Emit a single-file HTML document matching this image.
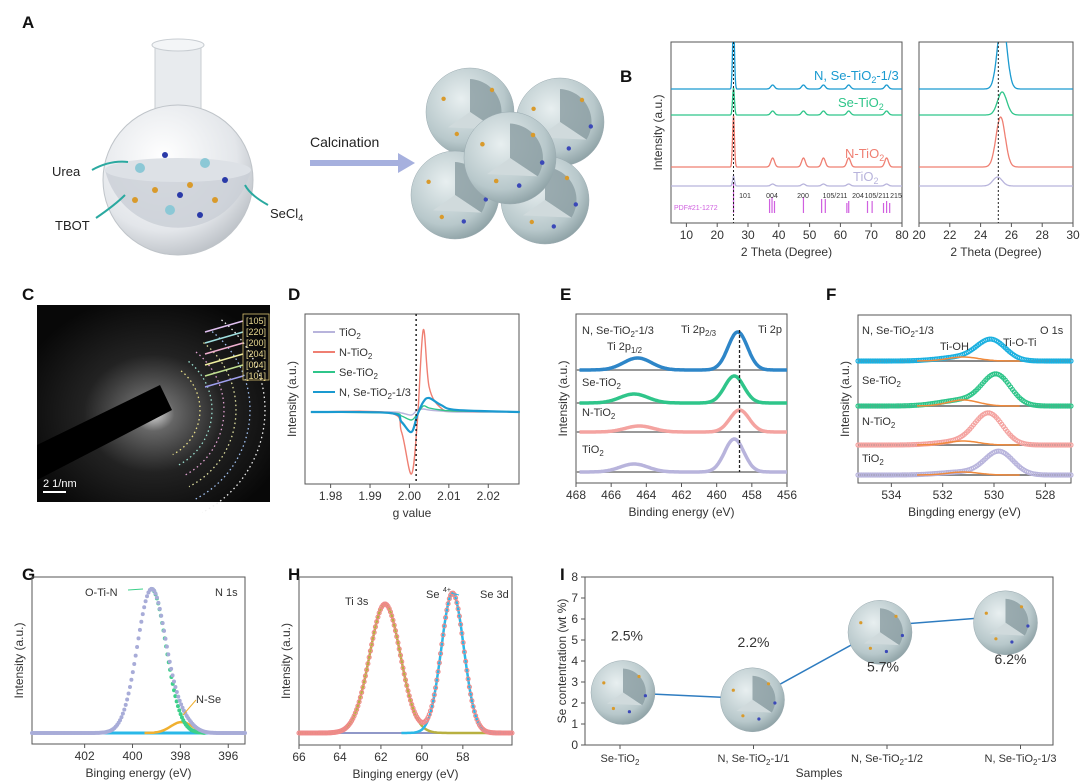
<!DOCTYPE html>
<html><head><meta charset="utf-8">
<style>
body{margin:0;background:#fff;}
svg{display:block;font-family:"Liberation Sans",sans-serif;}
.t{font-size:11px;fill:#333;}
.ax{font-size:12px;fill:#333;}
.lt{font-size:17px;font-weight:bold;fill:#111;}
</style></head>
<body>
<svg id="fig" width="1080" height="784" viewBox="0 0 1080 784">
<defs>
<radialGradient id="sph" cx="40%" cy="35%" r="70%">
<stop offset="0" stop-color="#e8eff0"/><stop offset="0.7" stop-color="#b8c8cb"/><stop offset="1" stop-color="#8a9ea2"/></radialGradient>
<radialGradient id="flask" cx="40%" cy="35%" r="70%">
<stop offset="0" stop-color="#ffffff"/><stop offset="0.7" stop-color="#e3e6ea"/><stop offset="1" stop-color="#b9bec4"/></radialGradient>
<radialGradient id="tem" cx="50%" cy="55%" r="60%">
<stop offset="0" stop-color="#ddd"/><stop offset="0.15" stop-color="#666"/><stop offset="0.5" stop-color="#222"/><stop offset="1" stop-color="#080808"/></radialGradient>
</defs>
<!-- letters -->
<text class="lt" x="22" y="28">A</text>
<text class="lt" x="620" y="82">B</text>
<text class="lt" x="22" y="300">C</text>
<text class="lt" x="288" y="300">D</text>
<text class="lt" x="560" y="300">E</text>
<text class="lt" x="826" y="300">F</text>
<text class="lt" x="22" y="580">G</text>
<text class="lt" x="288" y="580">H</text>
<text class="lt" x="560" y="580">I</text>

<!-- Panel A -->
<g>
<rect x="155" y="45" width="46" height="70" fill="#e8ebee" stroke="#c8cdd2"/>
<ellipse cx="178" cy="45" rx="26" ry="6" fill="#f3f5f7" stroke="#c8cdd2"/>
<circle cx="178" cy="180" r="75" fill="url(#flask)" stroke="#bfc4c9"/>
<path d="M105 170 Q178 185 251 170 A75 75 0 0 1 105 170Z" fill="#c9ced6" opacity="0.8"/>
<ellipse cx="178" cy="170" rx="73" ry="12" fill="#dde1e6"/>
<circle cx="140" cy="168" r="5" fill="#8cc8d6"/><circle cx="205" cy="163" r="5" fill="#8cc8d6"/><circle cx="170" cy="210" r="5" fill="#8cc8d6"/>
<circle cx="155" cy="190" r="3" fill="#d99a2b"/><circle cx="190" cy="185" r="3" fill="#d99a2b"/><circle cx="215" cy="200" r="3" fill="#d99a2b"/><circle cx="135" cy="200" r="3" fill="#d99a2b"/>
<circle cx="165" cy="155" r="3" fill="#2a3aa8"/><circle cx="200" cy="215" r="3" fill="#2a3aa8"/><circle cx="180" cy="195" r="3" fill="#2a3aa8"/><circle cx="225" cy="180" r="3" fill="#2a3aa8"/>
<path d="M92 170 Q110 160 128 162" fill="none" stroke="#2aa9a0" stroke-width="2"/>
<path d="M96 218 Q115 205 125 195" fill="none" stroke="#2aa9a0" stroke-width="2"/>
<path d="M268 205 Q250 195 245 185" fill="none" stroke="#2aa9a0" stroke-width="2"/>
</g>
<text x="52" y="176" font-size="13" fill="#222">Urea</text>
<text x="55" y="230" font-size="13" fill="#222">TBOT</text>
<text x="270" y="218" font-size="13" fill="#222">SeCl<tspan font-size="9" dy="3">4</tspan></text>
<text x="310" y="147" font-size="14" fill="#222">Calcination</text>
<path d="M310 163 L400 163" stroke="#a6b0de" stroke-width="6"/>
<path d="M398 153 L415 163 L398 173Z" fill="#a6b0de"/>
<g id="cluster"></g>

<!-- Panel C -->
<g>
<rect x="37" y="305" width="233" height="197" fill="url(#tem)"/>
<g id="rings" fill="none" stroke-dasharray="1.5 3" stroke-width="1.3"></g>
<path d="M37 445 L160 385 L172 410 L37 480Z" fill="#000"/>
<text x="43" y="487" font-size="11" fill="#fff">2 1/nm</text>
<line x1="43" y1="492" x2="66" y2="492" stroke="#fff" stroke-width="2"/>
<g id="hkl" font-size="9" fill="#e8d890"></g>
</g>

<g id="plots"></g>
</svg>
<script>
const NS='http://www.w3.org/2000/svg';
const root=document.getElementById('plots');
function el(tag,attrs,parent,txt){const e=document.createElementNS(NS,tag);for(const k in attrs)e.setAttribute(k,attrs[k]);if(txt!==undefined)e.textContent=txt;(parent||root).appendChild(e);return e;}
function lin(d0,d1,p0,p1){return v=>p0+(v-d0)*(p1-p0)/(d1-d0);}
function gauss(x,c,w){return Math.exp(-0.5*((x-c)/w)**2);}

function sphere(parent,cx,cy,r){
 el('circle',{cx:cx,cy:cy,r:r,fill:'url(#sph)',stroke:'#9aaab0','stroke-width':0.5},parent);
 el('path',{d:`M${cx} ${cy} L${cx} ${cy-r*0.75} A${r*0.75} ${r*0.75} 0 0 1 ${cx+r*0.6} ${cy+r*0.4} Z`,fill:'#8a9ca1',opacity:0.8},parent);
 el('path',{d:`M${cx} ${cy} L${cx+r*0.6} ${cy+r*0.4} L${cx-r*0.5} ${cy+r*0.35}Z`,fill:'#d0dadc'},parent);
 [[-0.6,-0.3,'#d99a2b'],[0.5,-0.5,'#d99a2b'],[0.2,0.6,'#3b48b8'],[-0.3,0.5,'#d99a2b'],[0.7,0.1,'#3b48b8']].forEach(p=>el('circle',{cx:cx+p[0]*r,cy:cy+p[1]*r,r:Math.max(1.5,r*0.05),fill:p[2]},parent));
}
const cl=document.getElementById('cluster');
[[470,112,44],[560,122,44],[455,195,44],[545,200,44],[510,158,46]].forEach(s=>sphere(cl,s[0],s[1],s[2]));

const rg=document.getElementById('rings');
const ringR=[50,62,74,86,100,115];const ringC=['#e9e08a','#9be0d0','#e0a0d0','#e0e0a0','#a0c0f0','#f0f0f0'];
ringR.forEach((r,i)=>el('path',{d:`M${150+r*Math.cos(-0.9)} ${410+r*Math.sin(-0.9)} A${r} ${r} 0 0 1 ${150+r*Math.cos(1.1)} ${410+r*Math.sin(1.1)}`,stroke:ringC[i]},rg));
const hk=document.getElementById('hkl');
['[105]','[220]','[200]','[204]','[004]','[101]'].forEach((t,i)=>{el('text',{x:246,y:324+i*11},hk,t);el('line',{x1:205,y1:332+i*11,x2:243,y2:321+i*11,stroke:['#e0c0f0','#a0e0e0','#f0b0d0','#f0f0a0','#c0e090','#a0a0f0'][i],'stroke-width':1.5},hk);});
el('rect',{x:243,y:314,width:26,height:66,fill:'none',stroke:'#d8c070','stroke-width':0.8},hk);

function frame(x0,y0,x1,y1,xs,ticks,xlab,ylab){
 el('rect',{x:x0,y:y0,width:x1-x0,height:y1-y0,fill:'none',stroke:'#555','stroke-width':1});
 ticks.forEach(t=>{const x=xs(t);if(x<x0-1||x>x1+1)return;el('line',{x1:x,y1:y1,x2:x,y2:y1+4,stroke:'#555'});const tx=el('text',{x:x,y:y1+16,'text-anchor':'middle',class:'ax'},undefined,String(t));});
 if(xlab){const a=el('text',{x:(x0+x1)/2,y:y1+33,'text-anchor':'middle',class:'ax'},undefined,xlab);}
 if(ylab){const a=el('text',{x:0,y:0,transform:`translate(${x0-9},${(y0+y1)/2}) rotate(-90)`,'text-anchor':'middle',class:'ax'},undefined,ylab);}
}
function pathFrom(xs,ys,xsc,ysc){let d='';xs.forEach((x,i)=>{d+=(i?'L':'M')+xsc(x).toFixed(1)+' '+ysc(ys[i]).toFixed(1);});return d;}
function series(fn,a,b,n){const X=[],Y=[];for(let i=0;i<=n;i++){const x=a+(b-a)*i/n;X.push(x);Y.push(fn(x));}return [X,Y];}

// ================= Panel B (XRD)
const xrdNames=['N, Se-TiO2-1/3','Se-TiO2','N-TiO2','TiO2'];
const xrdColors=['#1a9ad0','#2fc58a','#ef7f72','#b8b4dc'];
const xrdBase=[89,115,167,186];
const xrdMain=[70,27,52,10];
const xrdZoomMain=[70,23,50,9];
const xrdZoomCenter=[25.4,25.4,25.3,25.1];
const xrdMinor=[4,4,9,2];
const minorPk=[38,48,54.5,62.7,75];
const refPos=[25.3,37.0,37.8,38.6,48.0,53.9,55.1,62.1,62.7,68.8,70.3,74.0,75.0,76.0];
const refH=[30,14,16,12,16,14,14,10,12,12,12,10,12,10];
const xB=lin(5,80,671,902),xB2=lin(20,30,919,1073);
frame(671,42,902,223,xB,[10,20,30,40,50,60,70,80],'2 Theta (Degree)','Intensity (a.u.)');
frame(919,42,1073,223,xB2,[20,22,24,26,28,30],'2 Theta (Degree)',null);
const clipB=el('clipPath',{id:'cb'});el('rect',{x:671,y:42,width:231,height:181},clipB);
const clipB2=el('clipPath',{id:'cb2'});el('rect',{x:919,y:42,width:154,height:181},clipB2);
xrdNames.forEach((nm,i)=>{
 const f=x=>xrdMain[i]*gauss(x,25.3,0.3)+minorPk.reduce((s,c)=>s+xrdMinor[i]*gauss(x,c,0.6),0);
 const [X,Y]=series(f,5,80,600);
 const p=el('path',{d:pathFrom(X,Y,xB,v=>xrdBase[i]-v),fill:'none',stroke:xrdColors[i],'stroke-width':1.3,'clip-path':'url(#cb)'});
 
 const f2=x=>xrdZoomMain[i]*gauss(x,xrdZoomCenter[i],0.3);
 const [X2,Y2]=series(f2,20,30,300);
 const p2=el('path',{d:pathFrom(X2,Y2,xB2,v=>xrdBase[i]-v),fill:'none',stroke:xrdColors[i],'stroke-width':1.3,'clip-path':'url(#cb2)'});
 
});
[['N, Se-TiO','-1/3',814,80],['Se-TiO','',838,107],['N-TiO','',845,158],['TiO','',853,181]].forEach((l,i)=>{
 const t=el('text',{x:l[2],y:l[3],'font-size':13,fill:xrdColors[i]},undefined,l[0]);
 el('tspan',{'font-size':9,dy:3},t,'2');el('tspan',{dy:-3},t,l[1]);
 
});
refPos.forEach((p,i)=>{const r=el('line',{x1:xB(p),x2:xB(p),y1:213,y2:213-refH[i],stroke:'#d060e0','stroke-width':1.2});});
el('line',{x1:xB(25.3),x2:xB(25.3),y1:42,y2:223,stroke:'#222','stroke-dasharray':'2 2'});
el('line',{x1:xB2(25.15),x2:xB2(25.15),y1:42,y2:223,stroke:'#222','stroke-dasharray':'2 2'});
el('text',{x:674,y:210,'font-size':7,fill:'#d060e0'},undefined,'PDF#21-1272');
[['101',745],['004',772],['200',803],['105/211',835],['204',858],['105/211',877],['215',896]].forEach(l=>el('text',{x:l[1],y:198,'font-size':7,fill:'#333','text-anchor':'middle'},undefined,l[0]));

// ================= Panel D (EPR)
const eprNames=['TiO2','N-TiO2','Se-TiO2','N, Se-TiO2-1/3'];
const eprColors=['#b8b4dc','#ef7f72','#2fc58a','#1a9ad0'];
const eprG=[1.975,1.995,1.998,2.0005,2.002,2.0035,2.005,2.008,2.012,2.028];
const eprI=[
 [0,0,-1,-3,2,3,2,1,0,0],
 [0,-1,-20,-62,-10,82,25,4,1,0],
 [0,-1,-4,-8,-2,6,4,2,1,0],
 [0,-1,-10,-20,-3,10,14,7,2,0]];
const xD=lin(1.9735,2.0278,305,519),yD=v=>412-v;
frame(305,314,519,484,xD,[1.98,1.99,2.00,2.01,2.02].map(v=>v.toFixed(2)),'g value','Intensity (a.u.)');
function smooth(X,Y,xs,ys){
 const P=X.map((x,i)=>[xs(x),ys(Y[i])]);let d='M'+P[0][0]+' '+P[0][1];
 for(let i=0;i<P.length-1;i++){const p0=P[Math.max(0,i-1)],p1=P[i],p2=P[i+1],p3=P[Math.min(P.length-1,i+2)];
 d+=` C${p1[0]+(p2[0]-p0[0])/6} ${p1[1]+(p2[1]-p0[1])/6} ${p2[0]-(p3[0]-p1[0])/6} ${p2[1]-(p3[1]-p1[1])/6} ${p2[0]} ${p2[1]}`;}return d;}
eprNames.forEach((n,i)=>{const p=el('path',{d:smooth(eprG,eprI[i],xD,yD),fill:'none',stroke:eprColors[i],'stroke-width':i==3?2.2:1.4});});
el('line',{x1:xD(2.0017),x2:xD(2.0017),y1:314,y2:484,stroke:'#222','stroke-dasharray':'2 3','stroke-width':1.5});
eprNames.forEach((n,i)=>{const y=332+i*20;el('line',{x1:313,x2:335,y1:y,y2:y,stroke:eprColors[i],'stroke-width':2});
 const parts=n.split('TiO2');const t=el('text',{x:339,y:y+4,'font-size':11,fill:'#333'},undefined,parts[0]+'TiO');el('tspan',{'font-size':8,dy:3},t,'2');el('tspan',{dy:-3},t,parts[1]);
 });

// ================= Panel E (Ti 2p)
const eNames=['N, Se-TiO2-1/3','Se-TiO2','N-TiO2','TiO2'];
const eColors=['#2e86c8','#2fc58a','#f4a3a0','#b8b4dc'];
const eBase=[370,403,432,472];
const eMain=[38,27,22,33];
const eMinor=[12,9,6,8];
const eCenter=[458.8,459.0,458.7,459.0];
const xE=lin(468,456,576,787);
frame(576,314,787,483,xE,[468,466,464,462,460,458,456],'Binding energy (eV)','Intensity (a.u.)');
eNames.forEach((n,i)=>{
 el('line',{x1:576,x2:787,y1:eBase[i],y2:eBase[i],stroke:'#999','stroke-width':2});
 const f=x=>eMain[i]*gauss(x,eCenter[i],0.55)+eMinor[i]*gauss(x,eCenter[i]+5.7,0.8);
 const [X,Y]=series(f,467.8,456,300);
 const p=el('path',{d:pathFrom(X,Y,xE,v=>eBase[i]-v),fill:'none',stroke:eColors[i],'stroke-width':3.5});
 
});
el('line',{x1:xE(458.7),x2:xE(458.7),y1:330,y2:472,stroke:'#222','stroke-dasharray':'3 2','stroke-width':1.3});
function sub(x,y,a,s,b,fs,anchor){const t=el('text',{x:x,y:y,'font-size':fs||11,fill:'#333','text-anchor':anchor||'start'},undefined,a);el('tspan',{'font-size':(fs||11)*0.72,dy:3},t,s);if(b)el('tspan',{dy:-3},t,b);return t;}
sub(582,334,'N, Se-TiO','2','-1/3');sub(607,350,'Ti 2p','1/2','');sub(681,333,'Ti 2p','2/3','');
el('text',{x:758,y:333,'font-size':11,fill:'#333'},undefined,'Ti 2p');
sub(582,386,'Se-TiO','2','');sub(582,416,'N-TiO','2','');sub(582,453,'TiO','2','');

// ================= Panel F (O 1s)
const fNames=['N, Se-TiO2-1/3','Se-TiO2','N-TiO2','TiO2'];
const fColors=['#1ab0e0','#2fc58a','#f4a3a0','#b8b4dc'];
const fBase=[361,406,445,475];
const fMain=[20,30,30,23];
const fOH=[4,6,4,3];
const fCenter=[530.1,529.9,530.2,529.8];
const xF=lin(535.3,527.0,858,1071);
frame(858,315,1071,483,xF,[534,532,530,528],'Bingding energy (eV)','Intensity (a.u.)');
fNames.forEach((n,i)=>{
 el('line',{x1:858,x2:1071,y1:fBase[i],y2:fBase[i],stroke:'#888','stroke-width':2});
 const f=x=>fMain[i]*gauss(x,fCenter[i],0.55)+fOH[i]*gauss(x,531.2,0.9);
 const [X,Y]=series(f,535.3,527,120);
 const g=el('g',{fill:'none',stroke:fColors[i],'stroke-width':1.2});
 
 X.forEach((x,k)=>el('circle',{cx:xF(x),cy:fBase[i]-Y[k],r:2},g));
 const [X2,Y2]=series(x=>fOH[i]*gauss(x,531.2,0.6),533,529,60);
 el('path',{d:pathFrom(X2,Y2,xF,v=>fBase[i]-v),fill:'none',stroke:'#f08a3c','stroke-width':1.5});
});
sub(862,334,'N, Se-TiO','2','-1/3');el('text',{x:1040,y:334,'font-size':11,fill:'#333'},undefined,'O 1s');
el('text',{x:940,y:350,'font-size':11,fill:'#333'},undefined,'Ti-OH');el('text',{x:1003,y:346,'font-size':11,fill:'#333'},undefined,'Ti-O-Ti');
sub(862,384,'Se-TiO','2','');sub(862,425,'N-TiO','2','');sub(862,462,'TiO','2','');

// ================= Panel G (N 1s)
const gPeaks=[399.2,397.95];
const gHeights=[144,11];
const gWidths=[0.6,0.45];
const xG=lin(404.2,395.3,32,245),gBase=733;
frame(32,577,245,744,xG,[402,400,398,396],'Binging energy (eV)','Intensity (a.u.)');
el('line',{x1:32,x2:245,y1:gBase,y2:gBase,stroke:'#2ab8e8','stroke-width':3});
(function(){
 const [Xa,Ya]=series(x=>gHeights[1]*gauss(x,gPeaks[1],gWidths[1]),399.5,396.5,60);
 el('path',{d:pathFrom(Xa,Ya,xG,v=>gBase-v),fill:'none',stroke:'#f0b030','stroke-width':2.5});
 const [Xb,Yb]=series(x=>gHeights[0]*gauss(x,gPeaks[0],gWidths[0]),399.2,397,40);
 const gb=el('g',{fill:'#3cd08a'});Xb.forEach((x,k)=>el('circle',{cx:xG(x),cy:gBase-Yb[k],r:2},gb));
 const [X,Y]=series(x=>gHeights[0]*gauss(x,gPeaks[0],gWidths[0])+gHeights[1]*gauss(x,gPeaks[1],gWidths[1]),404.2,395.3,150);
 const g=el('g',{fill:'#a8acd8'});
 X.forEach((x,k)=>el('circle',{cx:xG(x),cy:gBase-Y[k],r:2},g));
})();
el('text',{x:85,y:596,'font-size':11,fill:'#333'},undefined,'O-Ti-N');el('text',{x:215,y:596,'font-size':11,fill:'#333'},undefined,'N 1s');
el('text',{x:196,y:703,'font-size':11,fill:'#333'},undefined,'N-Se');
el('line',{x1:128,y1:590,x2:143,y2:589,stroke:'#3cd08a'});el('path',{d:'M196 700 L183 715',stroke:'#f0b030',fill:'none'});

// ================= Panel H (Se 3d)
const hPeaks=[61.8,58.5];
const hHeights=[129,140];
const hWidths=[0.75,0.55];
const xH=lin(66,55.6,299,512),hBase=733;
frame(299,577,512,745,xH,[66,64,62,60,58],'Binging energy (eV)','Intensity (a.u.)');
el('line',{x1:299,x2:512,y1:hBase,y2:hBase,stroke:'#9098c8','stroke-width':2});
(function(){
 const [Xa,Ya]=series(x=>hHeights[0]*gauss(x,hPeaks[0],hWidths[0]),66,56,120);
 el('path',{d:pathFrom(Xa,Ya,xH,v=>hBase-v),fill:'none',stroke:'#b8b040','stroke-width':2.5});
 const [Xb,Yb]=series(x=>hHeights[1]*gauss(x,hPeaks[1],hWidths[1]),61,56,80);
 el('path',{d:pathFrom(Xb,Yb,xH,v=>hBase-v),fill:'none',stroke:'#2ab8e8','stroke-width':2.5});
 const [X,Y]=series(x=>hHeights[0]*gauss(x,hPeaks[0],hWidths[0])+hHeights[1]*gauss(x,hPeaks[1],hWidths[1]),66,55.6,170);
 const g=el('g',{fill:'none',stroke:'#ef8a8a','stroke-width':1.1});
 X.forEach((x,k)=>el('circle',{cx:xH(x),cy:hBase-Y[k],r:2},g));
})();
el('text',{x:345,y:605,'font-size':11,fill:'#333'},undefined,'Ti 3s');
el('text',{x:426,y:598,'font-size':11,fill:'#333'},undefined,'Se');el('text',{x:443,y:592,'font-size':7,fill:'#333'},undefined,'4+');
el('line',{x1:451,y1:593,x2:459,y2:595,stroke:'#2ab8e8'});
el('text',{x:480,y:598,'font-size':11,fill:'#333'},undefined,'Se 3d');

// ================= Panel I
const iCats=['Se-TiO2','N, Se-TiO2-1/1','N, Se-TiO2-1/2','N, Se-TiO2-1/3'];
const iVals=[2.5,2.2,5.7,6.2];
const iLabels=['2.5%','2.2%','5.7%','6.2%'];
const xI=i=>620+i*133.5,yI=lin(0,8,745,577);
el('rect',{x:585,y:577,width:468,height:168,fill:'none',stroke:'#555'});
[0,1,2,3,4,5,6,7,8].forEach(v=>{el('line',{x1:585,x2:581,y1:yI(v),y2:yI(v),stroke:'#555'});const t=el('text',{x:578,y:yI(v)+4,'text-anchor':'end',class:'ax'},undefined,String(v));});
const ipts=iVals.map((v,i)=>[xI(i),yI(v)]);
const il=el('polyline',{points:ipts.map(p=>p.join(',')).join(' '),fill:'none',stroke:'#2e7cc0','stroke-width':1.5});

const sdx=[3,-1,-7,-15],sdy=[0,1,7,8];
const ldx=[7,0,-4,-10],ldy=[-52,-52,46,49];
iVals.forEach((v,i)=>{const g=el('g',{});sphere(g,xI(i)+sdx[i],yI(v)+sdy[i],32);
 const t=el('text',{x:xI(i)+ldx[i],y:yI(v)+ldy[i],'text-anchor':'middle','font-size':14,fill:'#333'},undefined,iLabels[i]);
 el('line',{x1:xI(i),x2:xI(i),y1:745,y2:749,stroke:'#555'});
 const parts=iCats[i].split('TiO2');const c=el('text',{x:xI(i),y:762,'text-anchor':'middle','font-size':11,fill:'#333'},undefined,parts[0]+'TiO');el('tspan',{'font-size':8,dy:3},c,'2');el('tspan',{dy:-3},c,parts[1]);
 });
let t=el('text',{x:819,y:777,'text-anchor':'middle',class:'ax'},undefined,'Samples');
t=el('text',{transform:'translate(566,661) rotate(-90)','text-anchor':'middle',class:'ax'},undefined,'Se contentration (wt %)');
</script>
</body></html>
